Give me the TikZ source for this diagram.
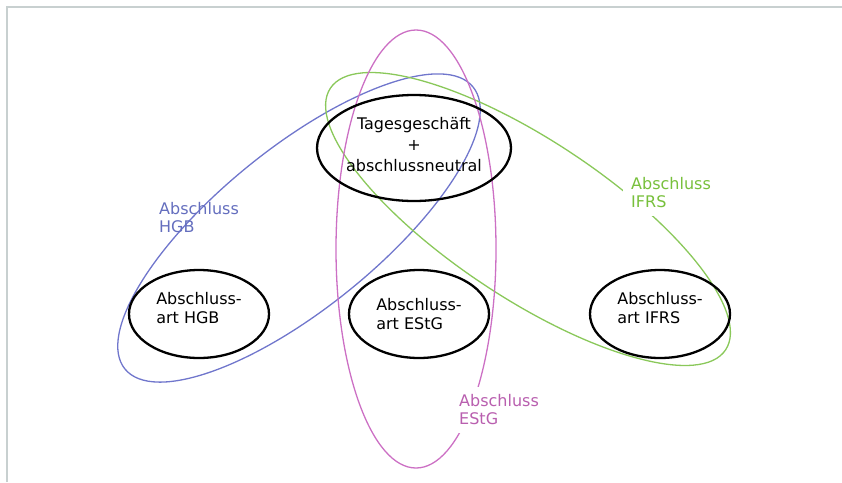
\documentclass[tikz,border=0pt]{standalone}
\usepackage{fontspec}
\setmainfont{DejaVu Sans}
\usetikzlibrary{shapes.geometric}
\definecolor{hgbblue}{RGB}{112,118,204}
\definecolor{ifrsgreen}{RGB}{138,200,90}
\definecolor{estgpink}{RGB}{204,112,196}
\definecolor{hgbtext}{RGB}{100,110,190}
\definecolor{ifrstext}{RGB}{120,192,60}
\definecolor{estgtext}{RGB}{185,95,175}
\definecolor{framegray}{RGB}{200,208,208}

\begin{document}
\begin{tikzpicture}[x=1pt, y=-1pt,
    artnode/.style={ellipse, draw, line width=2.3pt, minimum width=140pt, minimum height=88pt, inner sep=0pt, align=left, font=\fontsize{16}{19}\selectfont},
    setline/.style={line width=1.3pt},
    setlabel/.style={anchor=west, align=left, font=\fontsize{16}{18}\selectfont}]
        \useasboundingbox (0,0) rectangle (842,482);
        \draw[framegray, line width=1.5pt] (7,482) -- (7,7) -- (842,7);

        % Abschluss sets
        \draw[setline, hgbblue, rotate around={39:(299,228)}] (299,228) ellipse [x radius=224, y radius=80];
        \draw[setline, ifrsgreen, rotate around={-33.5:(528,219)}] (528,219) ellipse [x radius=237, y radius=79];
        \draw[setline, estgpink] (416,249) ellipse [x radius=80, y radius=219];

        % Abschlussarten
        \node[ellipse, draw, line width=2.3pt, minimum width=194pt, minimum height=106pt, inner sep=0pt, align=center, text depth=8pt, font=\fontsize{16}{21}\selectfont] (tages) at (414,148) {Tagesgeschäft\\+\\abschlussneutral};
        \node[artnode, text depth=12pt] (hgb) at (199,314) {Abschluss-\\art HGB};
        \node[artnode] (estg) at (419,314) {Abschluss-\\art EStG};
        \node[artnode, text depth=12pt] (ifrs) at (660,314) {Abschluss-\\art IFRS};

        % labels
        \node[setlabel, hgbtext, inner sep=0pt] (lhgb) at (159,218) {Abschluss\\HGB};
        \node[setlabel, ifrstext, fill=white, inner sep=8pt] (lifrs) at (623,193) {Abschluss\\IFRS};
        \node[setlabel, estgtext, fill=white, inner sep=8pt] (lestg) at (451,410) {Abschluss\\EStG};
    \end{tikzpicture}
\end{document}
